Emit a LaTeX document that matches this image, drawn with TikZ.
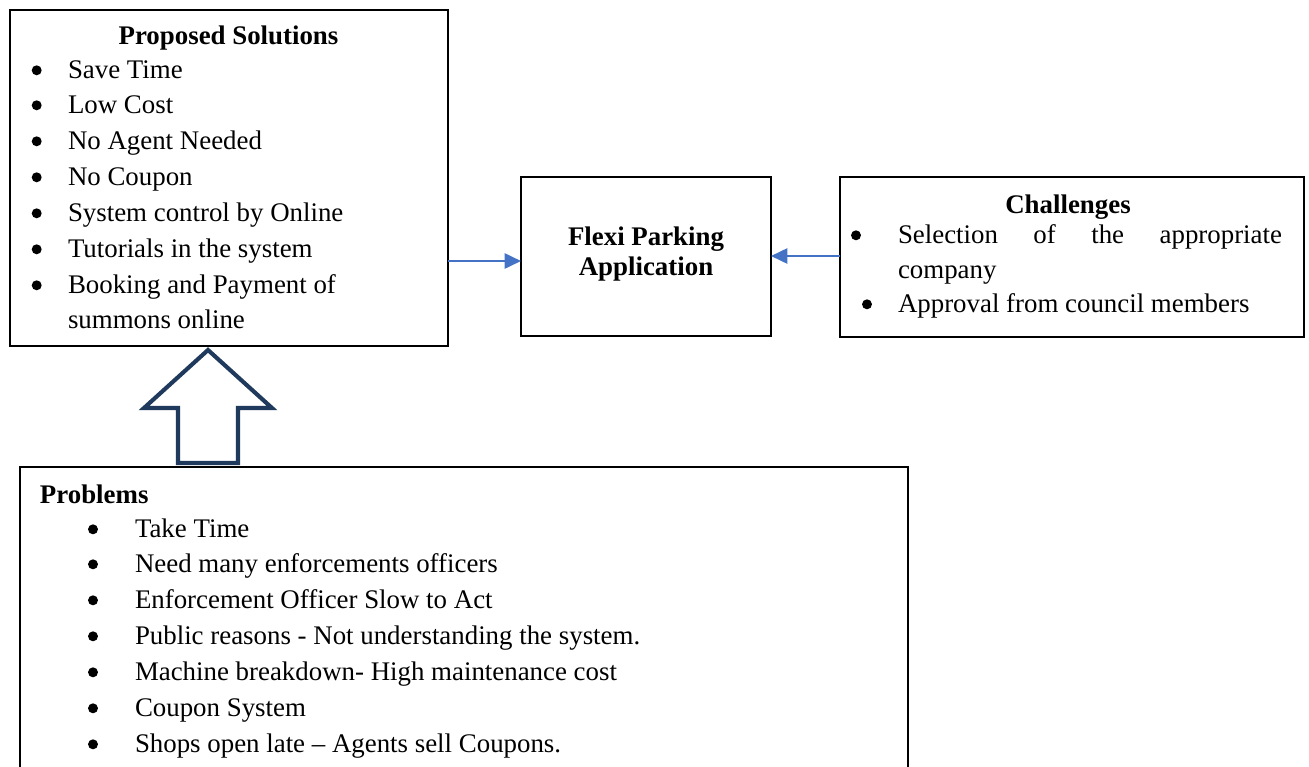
\documentclass[tikz,border=0pt]{standalone}
\usepackage{fontspec}
\setmainfont{Liberation Serif}
\usetikzlibrary{arrows.meta}
\definecolor{arrowblue}{HTML}{4472C4}
\definecolor{navy}{HTML}{1F3A5C}
\newcommand{\bul}[2]{\fill ([shift={(#2,-7.7)}]#1.base west) circle (2.3pt);}
\begin{document}
\begin{tikzpicture}[x=0.4615pt,y=-0.4615pt,
  box/.style={draw=black,line width=0.9pt,inner sep=0pt,outer sep=0pt},
  txt/.style={inner sep=0pt,outer sep=0pt,anchor=base west,font=\fontsize{12.4}{14}\selectfont},
  ttl/.style={inner sep=0pt,outer sep=0pt,anchor=base,font=\fontsize{12.4}{14}\selectfont\bfseries},
  conn/.style={draw=arrowblue,line width=0.9pt,-{Triangle[length=7.5pt,width=7pt]}},
  block/.style={draw=navy,line width=1.9pt,line join=miter}]
\clip (0,0) rectangle (1309,767);
\fill[white] (0,0) rectangle (1309,767);
% boxes
\node[box,minimum width=202.1pt,minimum height=155.1pt] (sol) at (229,178) {};
\node[box,minimum width=115.4pt,minimum height=73.4pt] (flexi) at (646,256.5) {};
\node[box,minimum width=214.1pt,minimum height=73.8pt] (chal) at (1072,257) {};
\node[box,minimum width=409.8pt,minimum height=153.7pt] (prob) at (464,633.5) {};
% Proposed solutions
\node[ttl] (s0) at (228.5,45) {Proposed Solutions};
\node[txt] (s1) at (68,78) {Save Time};
\node[txt] (s2) at (68,113) {Low Cost};
\node[txt] (s3) at (68,149) {No Agent Needed};
\node[txt] (s4) at (68,185) {No Coupon};
\node[txt] (s5) at (68,221) {System control by Online};
\node[txt] (s6) at (68,257) {Tutorials in the system};
\node[txt] (s7) at (68,293) {Booking and Payment of};
\node[txt] (s8) at (68,328) {summons online};
\foreach \n in {s1,s2,s3,s4,s5,s6,s7} {\bul{\n}{-31.3}}
% Flexi
\node[ttl] (f1) at (646,245) {Flexi Parking};
\node[ttl] (f2) at (646,275) {Application};
% Challenges
\node[ttl] (c0) at (1068,213) {Challenges};
\node[txt] (c1) at (898,243) {\hbox to 177.2pt{Selection\hfill of\hfill the\hfill appropriate}};
\node[txt] (c2) at (898,278) {company};
\node[txt] (c3) at (898,312) {Approval from council members};
\bul{c1}{-42}
\bul{c3}{-31}
% Problems
\node[txt,font=\fontsize{12.4}{14}\selectfont\bfseries] (p0) at (40,503) {Problems};
\node[txt] (p1) at (135,537) {Take Time};
\node[txt] (p2) at (135,572) {Need many enforcements officers};
\node[txt] (p3) at (135,608) {Enforcement Officer Slow to Act};
\node[txt] (p4) at (135,644) {Public reasons - Not understanding the system.};
\node[txt] (p5) at (135,680) {Machine breakdown- High maintenance cost};
\node[txt] (p6) at (135,716) {Coupon System};
\node[txt] (p7) at (135,752) {Shops open late -- Agents sell Coupons.};
\foreach \n in {p1,p2,p3,p4,p5,p6,p7} {\bul{\n}{-42}}
% connectors
\coordinate (a1) at (0,261);
\coordinate (a2) at (0,256);
\draw[conn] (sol.east |- a1) -- (flexi.west |- a1);
\draw[conn] (chal.west |- a2) -- (flexi.east |- a2);
% block arrow from Problems up to Proposed Solutions
\coordinate (bt) at (208,350);
\draw[block] (bt) -- (272,408) -- (238,408) -- (238,463) -- (178,463) -- (178,408) -- (144,408) -- cycle;
\end{tikzpicture}
\end{document}
